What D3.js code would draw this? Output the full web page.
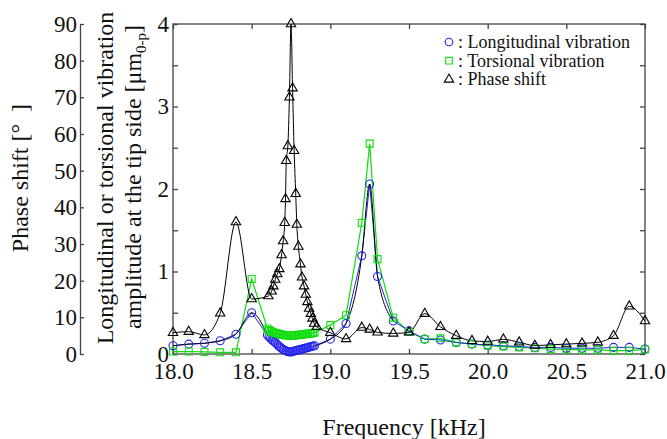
<!DOCTYPE html>
<html>
<head>
<meta charset="utf-8">
<script src="https://cdn.jsdelivr.net/npm/d3@7"></script>
<style>
  body { margin: 0; background: #fff; }
  svg text { font-family: "Liberation Serif", "Times New Roman", serif; fill: #111; }
  .axis path, .axis line { stroke: #444; stroke-width: 1.3; }
</style>
</head>
<body>
<svg id="chart" width="667" height="439"></svg>
<script>
// ---- data ----
var phaseFreq = [18.0, 18.1, 18.2, 18.3, 18.4, 18.5,
  18.606, 18.627, 18.638, 18.65, 18.663, 18.676, 18.69, 18.70, 18.71, 18.715,
  18.72, 18.73, 18.74, 18.75, 18.76, 18.77, 18.78, 18.787, 18.797, 18.81,
  18.82, 18.833, 18.844, 18.854, 18.865, 18.876, 18.886, 18.897, 18.914,
  19.0, 19.1, 19.2, 19.25, 19.3, 19.4, 19.5, 19.6, 19.7, 19.8, 19.9,
  20.0, 20.1, 20.2, 20.3, 20.4, 20.5, 20.6, 20.7, 20.8, 20.9, 21.0];
var phaseShift = [5.8, 6.1, 5.2, 11.1, 36, 15,
  15.8, 17.1, 18.5, 20.3, 21.8, 23.2, 27.0, 30.8, 35.8, 42.3,
  52.7, 56.7, 70.0, 90, 72.5, 55.4, 43.7, 35.3, 29.3, 24.5,
  20.9, 18.5, 16.2, 14.2, 12.4, 11.0, 9.7, 8.3, 7.4,
  5.8, 4.1, 7.2, 6.7, 5.9, 5.6, 5.9, 11, 7.4, 5, 3.6,
  3.4, 4, 3.2, 2.3, 2.5, 2.7, 2.9, 3.2, 5, 13, 9];

var ampFreq = [18.0, 18.1, 18.2, 18.3, 18.4, 18.5,
  18.60, 18.61, 18.62, 18.63, 18.64, 18.65, 18.66, 18.67, 18.68, 18.69,
  18.70, 18.71, 18.72, 18.73, 18.74, 18.75, 18.76, 18.77, 18.78, 18.79,
  18.80, 18.81, 18.82, 18.83, 18.84, 18.85, 18.86, 18.87, 18.88, 18.89, 18.90,
  19.0, 19.1, 19.2, 19.25, 19.3, 19.4, 19.5, 19.6, 19.7, 19.8, 19.9,
  20.0, 20.1, 20.2, 20.3, 20.4, 20.5, 20.6, 20.7, 20.8, 20.9, 21.0];
var longitudinal = [0.10, 0.12, 0.13, 0.16, 0.24, 0.50,
  0.23, 0.21, 0.19, 0.17, 0.155, 0.14, 0.12, 0.10, 0.085, 0.07,
  0.055, 0.045, 0.035, 0.03, 0.025, 0.025, 0.03, 0.035, 0.04, 0.045,
  0.05, 0.055, 0.06, 0.065, 0.07, 0.075, 0.08, 0.085, 0.09, 0.095, 0.10,
  0.18, 0.37, 1.19, 2.06, 0.94, 0.40, 0.28, 0.18, 0.17, 0.14, 0.12,
  0.11, 0.10, 0.09, 0.08, 0.08, 0.07, 0.07, 0.07, 0.08, 0.08, 0.06];
var torsional = [0.03, 0.03, 0.025, 0.02, 0.02, 0.91,
  0.31, 0.29, 0.28, 0.27, 0.26, 0.255, 0.25, 0.245, 0.24, 0.235,
  0.23, 0.23, 0.225, 0.225, 0.22, 0.22, 0.22, 0.225, 0.225, 0.23,
  0.23, 0.235, 0.235, 0.24, 0.24, 0.245, 0.245, 0.25, 0.25, 0.255, 0.26,
  0.35, 0.47, 1.59, 2.55, 1.15, 0.44, 0.27, 0.18, 0.19, 0.14, 0.12,
  0.10, 0.09, 0.08, 0.07, 0.06, 0.055, 0.05, 0.05, 0.04, 0.04, 0.055];

var freqTicks = [18.0, 18.5, 19.0, 19.5, 20.0, 20.5, 21.0];
var ampTicks = [0, 1, 2, 3, 4];
var ampMinor = [0, 0.5, 1, 1.5, 2, 2.5, 3, 3.5, 4];
var phaseTicks = [0, 10, 20, 30, 40, 50, 60, 70, 80, 90];
var legendItems = [
  { label: ": Longitudinal vibration", symbol: d3.symbolCircle, color: "#2222ee" },
  { label: ": Torsional vibration", symbol: d3.symbolSquare, color: "#11dd11" },
  { label: ": Phase shift", symbol: d3.symbolTriangle, color: "#000" }
];

var BLUE = "#2222ee", GREEN = "#11dd11";

var svg = d3.select("#chart");
var plotLeft = 173, plotRight = 645, plotTop = 24, plotBottom = 354, phaseX = 80;

var x = d3.scaleLinear().domain([18, 21]).range([plotLeft, plotRight]);
var yA = d3.scaleLinear().domain([0, 4]).range([plotBottom, plotTop]);
var yP = d3.scaleLinear().domain([0, 90]).range([plotBottom, plotTop]);

// frame
svg.append("rect")
  .attr("x", plotLeft).attr("y", plotTop)
  .attr("width", plotRight - plotLeft).attr("height", plotBottom - plotTop)
  .attr("fill", "none").attr("stroke", "#444").attr("stroke-width", 1.3);

// bottom axis
var gx = svg.append("g").attr("class", "axis")
  .attr("transform", "translate(0," + plotBottom + ")")
  .call(d3.axisBottom(x).tickValues(freqTicks).tickFormat(d3.format(".1f"))
    .tickSize(-5).tickSizeOuter(0).tickPadding(9));
gx.selectAll("text").style("font-size", "23px");
gx.select(".domain").remove();

// top axis (ticks only)
var gt = svg.append("g").attr("class", "axis")
  .attr("transform", "translate(0," + plotTop + ")")
  .call(d3.axisTop(x).tickValues(freqTicks).tickFormat("").tickSize(-5).tickSizeOuter(0));
gt.select(".domain").remove();

// amplitude axis
var ga = svg.append("g").attr("class", "axis")
  .attr("transform", "translate(" + plotLeft + ",0)")
  .call(d3.axisLeft(yA).tickValues(ampMinor)
    .tickFormat(function(d) { return ampTicks.indexOf(d) >= 0 ? d : ""; })
    .tickSize(-5).tickSizeOuter(0).tickPadding(4));
ga.selectAll("text").style("font-size", "23px");
ga.select(".domain").remove();

// right axis ticks
var gr = svg.append("g").attr("class", "axis")
  .attr("transform", "translate(" + plotRight + ",0)")
  .call(d3.axisRight(yA).tickValues(ampMinor).tickFormat("").tickSize(-5).tickSizeOuter(0));
gr.select(".domain").remove();

// phase axis
var gp = svg.append("g").attr("class", "axis")
  .attr("transform", "translate(" + phaseX + ",0)")
  .call(d3.axisLeft(yP).tickValues(phaseTicks).tickSize(-4).tickSizeOuter(0).tickPadding(3));
gp.selectAll("text").style("font-size", "23px");

// axis titles
svg.append("text")
  .attr("transform", "translate(28,178) rotate(-90)")
  .attr("text-anchor", "middle")
  .style("font-size", "24px").style("white-space", "pre")
  .text("Phase shift [°  ]");

svg.append("text")
  .attr("transform", "translate(113,178) rotate(-90)")
  .attr("text-anchor", "middle")
  .style("font-size", "24px")
  .text("Longitudinal or torsional vibration");

var t2 = svg.append("text")
  .attr("transform", "translate(141,177) rotate(-90)")
  .attr("text-anchor", "middle")
  .style("font-size", "24px");
t2.append("tspan").text("amplitude at the tip side [μm");
t2.append("tspan").attr("dy", 5).style("font-size", "15px").text("0-p");
t2.append("tspan").attr("dy", -5).text("]");

svg.append("text")
  .attr("x", 404).attr("y", 435)
  .attr("text-anchor", "middle")
  .style("font-size", "24px")
  .text("Frequency [kHz]");

// series
var longData = ampFreq.map(function(f, i) { return { f: f, v: longitudinal[i] }; });
var torsData = ampFreq.map(function(f, i) { return { f: f, v: torsional[i] }; });
var phaseData = phaseFreq.map(function(f, i) { return { f: f, v: phaseShift[i] }; });

var lineA = d3.line().x(function(d) { return x(d.f); }).y(function(d) { return yA(d.v); });
var curveA = d3.line().curve(d3.curveMonotoneX)
  .x(function(d) { return x(d.f); }).y(function(d) { return yA(d.v); });
var curveP = d3.line().curve(d3.curveMonotoneX)
  .x(function(d) { return x(d.f); }).y(function(d) { return yP(d.v); });

var plot = svg.append("g");

plot.append("path").datum(torsData)
  .attr("d", lineA).attr("fill", "none").attr("stroke", GREEN).attr("stroke-width", 1.2);

plot.append("path").datum(longData)
  .attr("d", lineA).attr("fill", "none").attr("stroke", BLUE).attr("stroke-width", 1);

// black fitted parts of the longitudinal curve
[longData.filter(function(d) { return d.f <= 18.6; }),
 longData.filter(function(d) { return d.f >= 18.9 && d.f <= 19.4; })].forEach(function(seg) {
  plot.append("path").datum(seg)
    .attr("d", curveA).attr("fill", "none").attr("stroke", "#000").attr("stroke-width", 1);
});

plot.append("path").datum(phaseData)
  .attr("d", curveP).attr("fill", "none").attr("stroke", "#000").attr("stroke-width", 1);

function markers(data, yScale, symbol, size, color) {
  plot.append("g").selectAll("path")
    .data(data)
    .enter()
    .append("path")
      .attr("transform", function(d) { return "translate(" + x(d.f) + "," + yScale(d.v) + ")"; })
      .attr("d", d3.symbol().type(symbol).size(size))
      .attr("fill", "none")
      .attr("stroke", color)
      .attr("stroke-width", 1.1);
}

markers(longData, yA, d3.symbolCircle, 50, BLUE);
markers(torsData, yA, d3.symbolSquare, 48, GREEN);
markers(phaseData, yP, d3.symbolTriangle, 38, "#000");

// legend
var legend = svg.append("g").attr("transform", "translate(449,42)");
legendItems.forEach(function(item, i) {
  var row = legend.append("g").attr("transform", "translate(0," + (i * 18.7) + ")");
  row.append("path")
    .attr("d", d3.symbol().type(item.symbol).size(item.symbol === d3.symbolTriangle ? 38 : 44))
    .attr("fill", "none").attr("stroke", item.color).attr("stroke-width", 1.1);
  row.append("text")
    .attr("x", 9).attr("y", 6)
    .style("font-size", "18px")
    .text(item.label);
});
</script>
</body>
</html>
